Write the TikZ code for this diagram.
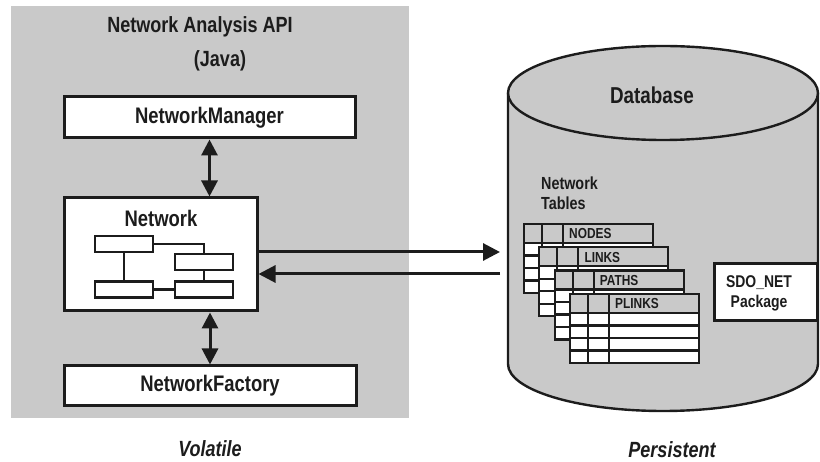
\documentclass[tikz,border=0pt]{standalone}
\usepackage{fontspec}
\setmainfont{Liberation Sans}[FakeStretch=0.82]
\usetikzlibrary{arrows.meta}
\definecolor{panelgray}{HTML}{C9C9C9}
\definecolor{ink}{HTML}{1C1C1C}

% one table of the stack: #1,#2 = top-left corner, #3 = header text
\newcommand{\dbtable}[3]{%
  \fill[white] (#1,#2) rectangle ++(129,69);
  \fill[panelgray] (#1,#2) rectangle ++(129,19);
  \foreach \r in {19,31.5,44,56.5}
    \draw[tline] (#1,#2+\r) -- ++(129,0);
  \foreach \c in {18,39}
    \draw[tline] (#1+\c,#2) -- ++(0,69);
  \draw[tline] (#1,#2) rectangle ++(129,69);
  \node[tlabel, anchor=west] at (#1+45,#2+10) {#3};
}

\begin{document}
\begin{tikzpicture}[x=1pt,y=-1pt,
  panel/.style={fill=panelgray, inner sep=0pt},
  box/.style={draw=ink, fill=white, line width=3pt, inner sep=0pt, text=ink,
    font=\bfseries\fontsize{22.5}{26}\selectfont},
  minirect/.style={draw=ink, fill=white, line width=2.3pt, minimum width=58pt,
    minimum height=16pt, inner sep=0pt},
  mini/.style={draw=ink, line width=2.3pt},
  tline/.style={draw=ink, line width=2.2pt},
  tlabel/.style={text=ink, inner sep=0pt, font=\bfseries\fontsize{14.5}{17}\selectfont},
  lbl/.style={text=ink, inner sep=0pt, font=\bfseries\fontsize{22}{26}\selectfont},
  slbl/.style={text=ink, inner sep=0pt, align=left, font=\bfseries\fontsize{17.5}{20}\selectfont},
  caption/.style={text=ink, inner sep=0pt, font=\bfseries\itshape\fontsize{22}{26}\selectfont},
  link/.style={draw=ink, line width=3pt, {Triangle[length=16pt,width=16pt]}-{Triangle[length=16pt,width=16pt]}},
  oneway/.style={draw=ink, line width=3pt, -{Triangle[length=17pt,width=17pt]}},
]
\useasboundingbox (0,0) rectangle (820,462);

% ---- Java side --------------------------------------------------------
\node[panel, minimum width=398pt, minimum height=412pt] (api) at (210,212) {};
\node[lbl] (title) at (200,27) {Network Analysis API};
\node[lbl] (java) at (220,61) {(Java)};

\node[box, minimum width=291pt, minimum height=41pt] (nm) at (209.5,117.5) {NetworkManager};
\node[box, minimum width=193pt, minimum height=113pt] (net) at (160.5,254.5) {};
\node[lbl, font=\bfseries\fontsize{22.5}{26}\selectfont] (netlbl) at (161,218) {Network};
\node[box, minimum width=292pt, minimum height=40pt] (nf) at (210,386) {NetworkFactory};

% little object graph inside the Network box
\node[minirect] (r1) at (124,244) {};
\node[minirect] (r2) at (204,262) {};
\node[minirect] (r3) at (124,289.5) {};
\node[minirect] (r4) at (204,289.5) {};
\draw[mini] (r1.east) -- (r1.east -| r2.north) -- (r2.north);
\draw[mini] (r1.south) -- (r3.north);
\draw[mini] (r2.south) -- (r4.north);
\draw[mini] (r3.east) -- (r4.west);

\draw[link] (nm.south) -- (nm.south |- net.north);
\draw[link] (nf.north |- net.south) -- (nf.north);

\node[caption] (volatile) at (210,449) {Volatile};

% ---- Database side ----------------------------------------------------
\fill[panelgray] (508,93) -- (508,364) arc[start angle=180, end angle=0, x radius=155, y radius=47] -- (818,93) -- cycle;
\draw[ink, line width=2.4pt] (508,93) -- (508,364) arc[start angle=180, end angle=0, x radius=155, y radius=47] -- (818,93);
\draw[ink, fill=panelgray, line width=2.4pt] (663,93) ellipse[x radius=155, y radius=47];
\node[lbl, font=\bfseries\fontsize{23}{26}\selectfont] (dblbl) at (652,95) {Database};

\node[slbl, anchor=west] (tables) at (541,193) {Network\\Tables};

\dbtable{524}{224}{NODES}
\dbtable{539.3}{247.3}{LINKS}
\dbtable{554.6}{270.6}{PATHS}
\dbtable{570}{294}{PLINKS}

\node[box, minimum width=103pt, minimum height=57pt] (sdo) at (765.5,292.5) {};
\node[text=ink, inner sep=0pt, align=center, font=\bfseries\fontsize{17}{20}\selectfont] (sdotext) at (759,293) {SDO\_NET\\Package};

\node[caption] (persistent) at (672,450) {Persistent};

% ---- traffic between the API and the database -------------------------
\coordinate (dbin) at (500,252);
\coordinate (dbout) at (500,274);
\draw[oneway] (net.east |- dbin) -- (dbin);
\draw[oneway] (dbout) -- (net.east |- dbout);
\end{tikzpicture}
\end{document}
